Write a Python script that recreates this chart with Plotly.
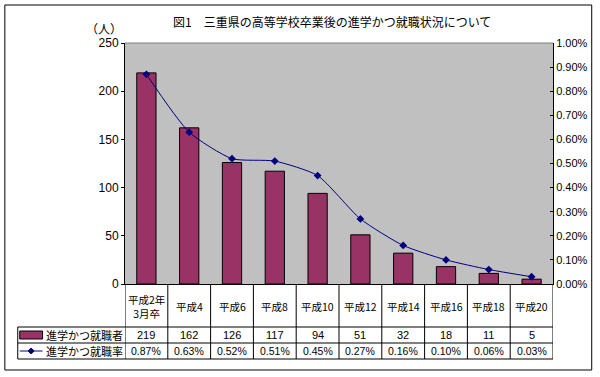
import plotly.graph_objects as go

categories = ["平成2年<br>3月卒", "平成4", "平成6", "平成8", "平成10", "平成12", "平成14", "平成16", "平成18", "平成20"]
counts = [219, 162, 126, 117, 94, 51, 32, 18, 11, 5]
rates = [0.0087, 0.0063, 0.0052, 0.0051, 0.0045, 0.0027, 0.0016, 0.0010, 0.0006, 0.0003]
series_names = ["進学かつ就職者", "進学かつ就職率"]
title_text = "図1　三重県の高等学校卒業後の進学かつ就職状況について"
left_ticks = [0, 50, 100, 150, 200, 250]
right_ticks = [i / 1000 for i in range(0, 11)]

BAR = "#993366"
LINE = "#000080"
JP = "Noto Sans CJK JP, sans-serif"
NUM = "Liberation Sans, Arial, sans-serif"

W, H = 600, 377
L, R, T, B = 125, 44, 43, 93
PW, PH = W - L - R, H - T - B

def py(pix):  # pixel y -> paper y
    return (H - B - pix) / PH

def px(pix):
    return (pix - L) / PW

xs = list(range(len(categories)))

fig = go.Figure()
fig.add_trace(go.Bar(x=xs, y=counts, width=0.45, marker=dict(color=BAR, line=dict(color="black", width=1)),
                     name=series_names[0], showlegend=False))
fig.add_trace(go.Scatter(x=xs, y=rates, yaxis="y2", mode="lines+markers", line=dict(color=LINE, width=1, shape="spline", smoothing=0.6),
                         marker=dict(symbol="diamond", size=6, color=LINE), name=series_names[1], showlegend=False))

shapes = []
shapes.append(dict(type="rect", xref="paper", yref="paper", x0=px(4), x1=px(595), y0=py(5), y1=py(370),
                   line=dict(color="black", width=1)))
shapes.append(dict(type="line", xref="paper", yref="paper", x0=0, x1=1, y0=1, y1=1, line=dict(color="#808080", width=1)))
for i in range(len(categories) + 1):
    shapes.append(dict(type="line", xref="x", yref="paper", x0=i - 0.5, x1=i - 0.5, y0=0, y1=py(359),
                       line=dict(color="black", width=1)))
for yy in [327, 343, 359]:
    shapes.append(dict(type="line", xref="paper", yref="paper", x0=px(17), x1=1, y0=py(yy), y1=py(yy),
                       line=dict(color="black", width=1)))
shapes.append(dict(type="line", xref="paper", yref="paper", x0=px(17), x1=px(17), y0=py(327), y1=py(359),
                   line=dict(color="black", width=1)))
shapes.append(dict(type="rect", xref="paper", yref="paper", x0=px(19), x1=px(42), y0=py(331), y1=py(339),
                   fillcolor=BAR, line=dict(color="black", width=1)))
shapes.append(dict(type="line", xref="paper", yref="paper", x0=px(19), x1=px(42), y0=py(351), y1=py(351),
                   line=dict(color=LINE, width=1)))
cx, cy = 30.5, 351
shapes.append(dict(type="path", xref="paper", yref="paper",
                   path=f"M {px(cx-3)} {py(cy)} L {px(cx)} {py(cy-3)} L {px(cx+3)} {py(cy)} L {px(cx)} {py(cy+3)} Z",
                   fillcolor=LINE, line=dict(color=LINE, width=1)))

def A(text, x, y, xref="paper", size=11, family=JP, xanchor="center"):
    return dict(text=text, x=x, y=y, xref=xref, yref="paper", showarrow=False, xanchor=xanchor, yanchor="middle",
                font=dict(family=family, size=size, color="black"))

ann = []
ann.append(A(title_text, px(333), py(21), size=12))
ann.append(A("（人）", px(104), py(29), size=12))
for i, c in enumerate(categories):
    ann.append(A(c, i, py(306), xref="x", size=10.5))
    ann.append(A(str(counts[i]), i, py(335), xref="x", family=NUM, size=11))
    ann.append(A(f"{rates[i]*100:.2f}%", i, py(351), xref="x", family=NUM, size=10.5))
ann.append(A(series_names[0], px(43), py(335), size=11, xanchor="left"))
ann.append(A(series_names[1], px(43), py(351), size=11, xanchor="left"))

fig.update_layout(
    width=W, height=H, margin=dict(l=L, r=R, t=T, b=B),
    paper_bgcolor="white", plot_bgcolor="#C0C0C0",
    xaxis=dict(range=[-0.5, len(categories) - 0.5], showticklabels=False, showgrid=False, zeroline=False,
               showline=True, linecolor="black", linewidth=1, ticks=""),
    yaxis=dict(range=[0, 250], tickvals=left_ticks, showgrid=False, zeroline=False, showline=True,
               linecolor="black", linewidth=1, ticks="outside", ticklen=3, tickcolor="black",
               tickfont=dict(family=NUM, size=12, color="black")),
    yaxis2=dict(range=[0, 0.01], tickvals=right_ticks, tickformat=".2%", overlaying="y", side="right",
                showgrid=False, zeroline=False, showline=True, linecolor="black", linewidth=1,
                ticks="inside", ticklen=3, tickcolor="black", tickfont=dict(family=NUM, size=11, color="black")),
    shapes=shapes, annotations=ann, bargap=0.55,
)
fig.write_html("out.html", post_script="document.body.style.margin='0';", config={"displayModeBar": False})
